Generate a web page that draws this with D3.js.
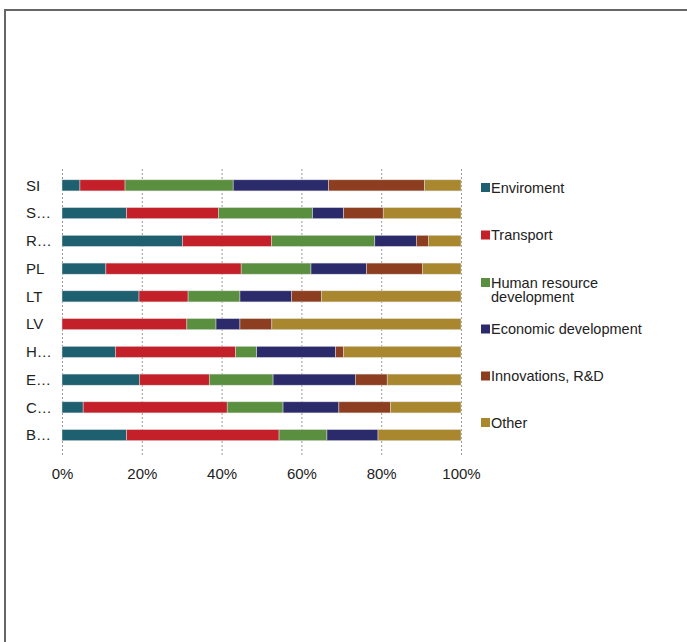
<!DOCTYPE html>
<html><head><meta charset="utf-8">
<script src="https://cdn.jsdelivr.net/npm/d3@7"></script>
<style>body{margin:0;background:#fff}svg{display:block}</style>
</head><body>
<svg id="c" width="687" height="642"></svg>
<script>
const categories = ["SI","S…","R…","PL","LT","LV","H…","E…","C…","B…"];
const seriesNames = ["Enviroment","Transport","Human resource development","Economic development","Innovations, R&D","Other"];
const enviroment = [4.5,16.2,30.2,11.0,19.3,0,13.4,19.4,5.3,16.2];
const transport  = [11.3,23.0,22.3,33.9,12.3,31.3,30.1,17.5,36.1,38.2];
const humanRes   = [27.1,23.6,25.9,17.5,13.0,7.3,5.3,16.0,14.0,12.0];
const economic   = [23.9,7.8,10.4,13.9,12.9,6.0,19.8,20.6,14.0,12.8];
const innovations= [24.1,9.9,3.0,14.0,7.5,8.0,2.0,8.0,12.9,0];
const other      = [9.1,19.5,8.2,9.7,35.0,47.4,29.4,18.5,17.7,20.8];
const tickValues = [0,20,40,60,80,100];
const colors = ["#1e5f70","#c42029","#5a8f3f","#2b2b6c","#8d3e20","#a8872f"];

const series = [enviroment,transport,humanRes,economic,innovations,other];
const rows = categories.map((c,i)=>{const o={cat:c};seriesNames.forEach((s,j)=>o[s]=series[j][i]);return o;});
const stack = d3.stack().keys(seriesNames)(rows);

const svg = d3.select("#c");
const font = "'Liberation Sans', Arial, sans-serif";
// frame
svg.append("path").attr("d","M5,642 V10 H687").attr("fill","none").attr("stroke","#666").attr("stroke-width",2);

const x = d3.scaleLinear().domain([0,100]).range([62,461]);
const y = d3.scaleBand().domain(categories).range([171.5,449]).paddingInner(0.6).paddingOuter(0.3);

// grid
svg.append("g").selectAll("line").data(tickValues).join("line")
  .attr("x1",d=>x(d)+0.5).attr("x2",d=>x(d)+0.5).attr("y1",169).attr("y2",455)
  .attr("stroke","#999").attr("stroke-width",1).attr("stroke-dasharray","2,2");

// bars
svg.append("g").selectAll("g").data(stack).join("g").attr("fill",(d,i)=>colors[i])
  .selectAll("rect").data(d=>d).join("rect")
  .attr("x",d=>x(d[0])).attr("width",d=>Math.max(0,x(d[1])-x(d[0])))
  .attr("y",d=>y(d.data.cat)).attr("height",y.bandwidth())
  .attr("stroke","#ddd").attr("stroke-width",0.5);

// x axis
const xa = svg.append("g").attr("transform","translate(0,455)")
  .call(d3.axisBottom(x).tickValues(tickValues).tickFormat(d=>d+"%").tickSize(0).tickPadding(13));
xa.select(".domain").remove();
xa.selectAll("text").attr("font-family",font).attr("font-size",15).attr("fill","#222");

// y labels
svg.append("g").selectAll("text").data(categories).join("text")
  .attr("x",26).attr("y",d=>y(d)+y.bandwidth()/2).attr("dy","0.35em")
  .attr("font-family",font).attr("font-size",15).attr("fill","#222").text(d=>d);

// legend
const legY = [187.5,235,282.5,329,376,422.5];
const leg = svg.append("g");
seriesNames.forEach((s,i)=>{
  leg.append("rect").attr("x",481).attr("y",legY[i]-4.5).attr("width",9).attr("height",9).attr("fill",colors[i]);
  const t = leg.append("text").attr("x",491).attr("y",legY[i]).attr("dy","0.35em")
    .attr("font-family",font).attr("font-size",14.5).attr("fill","#222");
  if (s==="Human resource development") {
    t.append("tspan").attr("x",491).text("Human resource");
    t.append("tspan").attr("x",491).attr("dy","1.0em").text("development");
  } else t.text(s);
});
</script>
</body></html>
